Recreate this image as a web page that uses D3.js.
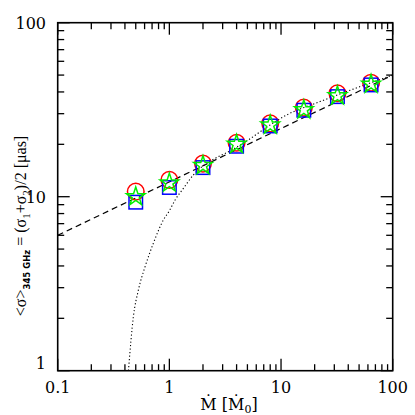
<!DOCTYPE html>
<html><head><meta charset="utf-8">
<script src="https://cdn.jsdelivr.net/npm/d3@7"></script>
<style>body{margin:0;background:#fff}svg{display:block}</style>
</head><body>
<svg id="c" width="415" height="415"></svg>
<script>
// Data
const mdot = [0.5, 1, 2, 4, 8, 16, 32, 64];
const circleVals = [10.7, 12.5, 15.5, 20.4, 26.4, 32.5, 39.3, 45.2];
const squareVals = [9.3, 11.3, 14.7, 19.5, 25.5, 31.4, 37.6, 43.9];
const starVals   = [10.0, 12.0, 15.1, 20.0, 25.8, 31.6, 38.0, 44.3];
const dashedX = [0.1, 100];
const dashedY = [6, 50];
const dottedX = [0.43, 0.476, 0.528, 0.606, 0.719, 0.884, 1.0, 1.125, 1.335, 1.64, 2.09, 2.75, 3.62, 5.10, 7.19, 11.25, 22.3, 100];
const dottedY = [1.0, 2.04, 2.91, 3.96, 5.40, 7.35, 8.3, 9.57, 11.17, 13.33, 15.35, 17.0, 18.55, 21.2, 24.7, 29.5, 35.2, 50];
const xTickLabels = ["0.1", "1", "10", "100"];
const yTickLabels = ["1", "10", "100"];

const L = 57.7, R = 392.7, T = 22.7, B = 370.7;
const x = d3.scaleLog().domain([0.1, 100]).range([L, R]);
const y = d3.scaleLog().domain([1, 100]).range([B, T]);
const svg = d3.select("#c");
const font = "DejaVu Serif";

svg.append("defs").append("clipPath").attr("id","clip")
  .append("rect").attr("x",L).attr("y",T).attr("width",R-L).attr("height",B-T);

// ticks
const majX = [0.1,1,10,100], majY=[1,10,100];
const minX = [], minY = [];
[0.1,1,10].forEach(d=>{for(let k=2;k<=9;k++){minX.push(d*k);}});
[1,10].forEach(d=>{for(let k=2;k<=9;k++){minY.push(d*k);}});
const g = svg.append("g").attr("stroke","#000").attr("stroke-width",1.3);
const MJ=12, MN=6.5;
minX.forEach(v=>{const px=x(v);
  g.append("line").attr("x1",px).attr("x2",px).attr("y1",B).attr("y2",B-MN);
  g.append("line").attr("x1",px).attr("x2",px).attr("y1",T).attr("y2",T+MN);});
majX.forEach(v=>{const px=x(v);
  g.append("line").attr("x1",px).attr("x2",px).attr("y1",B).attr("y2",B-MJ);
  g.append("line").attr("x1",px).attr("x2",px).attr("y1",T).attr("y2",T+MJ);});
minY.forEach(v=>{const py=y(v);
  g.append("line").attr("x1",L).attr("x2",L+MN).attr("y1",py).attr("y2",py);
  g.append("line").attr("x1",R).attr("x2",R-MN).attr("y1",py).attr("y2",py);});
majY.forEach(v=>{const py=y(v);
  g.append("line").attr("x1",L).attr("x2",L+MJ).attr("y1",py).attr("y2",py);
  g.append("line").attr("x1",R).attr("x2",R-MJ).attr("y1",py).attr("y2",py);});
svg.append("rect").attr("x",L).attr("y",T).attr("width",R-L).attr("height",B-T)
  .attr("fill","none").attr("stroke","#000").attr("stroke-width",1.6);

// tick labels
xTickLabels.forEach((t,i)=>{
  svg.append("text").attr("x",x(majX[i])).attr("y",393).attr("text-anchor","middle")
    .attr("font-family",font).attr("font-size",16).text(t);
});
yTickLabels.forEach((t,i)=>{
  const py = y(majY[i]) + (i===0 ? -1.5 : 6);
  svg.append("text").attr("x",46).attr("y",py).attr("text-anchor","end")
    .attr("font-family",font).attr("font-size",16).text(t);
});

// lines
const line = d3.line().x(d=>x(d[0])).y(d=>y(d[1]));
const pl = svg.append("g").attr("clip-path","url(#clip)");
pl.append("path").attr("d", line(dashedX.map((v,i)=>[v,dashedY[i]])))
  .attr("fill","none").attr("stroke","#000").attr("stroke-width",1.2).attr("stroke-dasharray","6,4");
pl.append("path").attr("d", line.curve(d3.curveMonotoneX)(dottedX.map((v,i)=>[v,dottedY[i]])))
  .attr("fill","none").attr("stroke","#000").attr("stroke-width",1.1).attr("stroke-dasharray","1.2,2.3");

// markers
const mk = svg.append("g").attr("fill","none").attr("stroke-width",1.5);
mdot.forEach((m,i)=>{
  mk.append("circle").attr("cx",x(m)).attr("cy",y(circleVals[i])).attr("r",8.3).attr("stroke","#ff0000");
});
mdot.forEach((m,i)=>{
  const s=13.5;
  mk.append("rect").attr("x",x(m)-s/2).attr("y",y(squareVals[i])-s/2).attr("width",s).attr("height",s).attr("stroke","#0000ff");
});
const star = d3.symbol().type(d3.symbolStar).size(9.8*9.8/0.8908130915292852);
mdot.forEach((m,i)=>{
  mk.append("path").attr("d",star()).attr("transform",`translate(${x(m)},${y(starVals[i])})`).attr("stroke","#00ee00");
});

// axis titles
const xt = svg.append("text").attr("x",229).attr("y",410).attr("text-anchor","middle")
  .attr("font-family",font).attr("font-size",16);
xt.append("tspan").text("Ṁ  [Ṁ");
xt.append("tspan").attr("font-size",11).attr("dy",3).text("0");
xt.append("tspan").attr("dy",-3).text("]");

const yt = svg.append("text").attr("transform","translate(26,226) rotate(-90)").attr("text-anchor","middle")
  .attr("font-family","Liberation Serif").attr("font-size",16);
yt.append("tspan").text("<σ>");
yt.append("tspan").attr("font-family","DejaVu Sans").attr("font-weight","bold").attr("font-size",8.5).attr("dy",4).text("345 GHz");
yt.append("tspan").attr("dy",-4).text(" = (σ");
yt.append("tspan").attr("font-size",11).attr("dy",4).text("1");
yt.append("tspan").attr("dy",-4).text("+σ");
yt.append("tspan").attr("font-size",11).attr("dy",4).text("2");
yt.append("tspan").attr("dy",-4).text(")/2 [μas]");
</script>
</body></html>
